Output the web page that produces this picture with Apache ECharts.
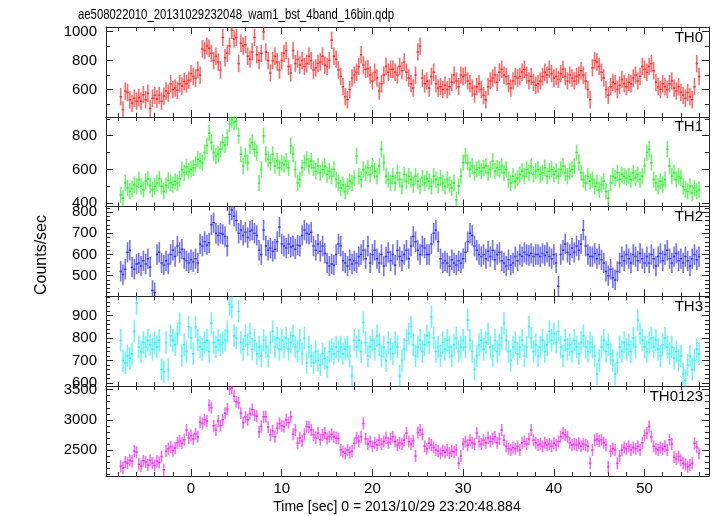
<!DOCTYPE html>
<html><head><meta charset="utf-8">
<script src="https://cdn.jsdelivr.net/npm/echarts@6/dist/echarts.min.js"></script>
<style>html,body{margin:0;padding:0;background:#fff}#c{width:717px;height:516px}</style>
</head><body><div id="c"></div>
<script>
const chartTitle = 'ae508022010_20131029232048_wam1_bst_4band_16bin.qdp';
const xTitle = 'Time [sec] 0 = 2013/10/29 23:20:48.884';
const yTitle = 'Counts/sec';
const bandNames = ['TH0', 'TH1', 'TH2', 'TH3', 'TH0123'];
const binStart = -7.75;   // centre of first bin (s)
const binWidth = 0.25;    // bin width (s)

const th0 = [
 550,460,590,580,530,505,540,520, 545,520,565,530,575,470,540,560,
 535,560,520,555,590,575,640,600, 610,595,640,625,655,640,665,710,
 690,680,735,700,880,870,900,885, 850,800,830,790,735,960,820,850,
 900,1010,950,960,780,920,900,910, 830,810,860,960,840,800,850,1000,
 860,800,715,800,830,790,735,800, 850,870,760,715,870,780,810,770,
 800,760,780,830,800,735,750,780, 790,830,770,760,800,940,830,810,
 735,690,620,550,530,600,680,700, 720,760,840,770,740,745,700,660,
 720,680,590,640,700,760,720,740, 740,720,700,760,730,790,720,680,
 640,610,700,860,900,680,640,660, 610,690,720,640,610,620,600,630,
 600,620,650,700,660,620,700,690, 700,660,640,610,570,620,640,600,
 560,530,620,660,680,700,650,720, 740,700,690,640,610,660,690,680,
 690,720,740,700,660,690,650,630, 640,660,690,720,700,740,710,680,
 690,670,710,740,690,660,700,680, 660,690,700,730,700,660,600,530,
 750,800,790,760,720,680,600,560, 620,650,640,600,630,670,640,620,
 650,640,680,700,660,690,760,740, 720,760,780,730,650,620,600,640,
 620,600,640,660,610,590,620,580, 560,540,580,550,530,620,780,690
];
const th1 = [
 450,430,520,490,470,485,510,500, 540,500,480,530,545,505,480,500,
 520,545,500,470,505,535,520,510, 530,520,545,600,580,615,590,600,
 610,630,660,650,640,700,740,815, 760,700,680,690,720,760,745,790,
 870,895,880,885,800,690,620,680, 640,740,760,720,700,520,600,800,
 690,660,640,690,620,650,610,640, 630,650,610,740,690,600,520,540,
 610,640,660,620,650,610,590,620, 580,600,620,570,590,560,600,540,
 520,490,510,470,500,530,520,550, 680,560,540,600,580,610,570,620,
 590,560,620,720,640,560,540,520, 560,520,580,540,500,570,530,560,
 540,510,560,530,500,550,520,545, 530,500,560,540,510,550,520,500,
 540,510,490,520,420,500,560,640, 680,640,600,620,580,600,610,590,
 610,620,580,600,650,590,610,600, 620,580,600,540,520,560,530,550,
 570,590,560,600,580,620,570,590, 600,570,580,610,560,590,600,570,
 590,560,600,620,580,560,590,600, 620,700,640,580,540,520,560,530,
 540,500,520,480,510,530,470,430, 520,560,550,580,540,570,560,550,
 560,540,580,550,570,540,560,620, 700,720,640,540,520,500,530,510,
 540,720,620,560,580,540,560,550, 500,480,470,500,460,490,470,480
];
const th2 = [
 520,505,530,610,620,540,530,555, 560,545,570,555,580,540,430,420,
 600,610,560,550,570,555,600,620, 590,640,610,625,580,570,560,575,
 565,580,560,650,640,660,645,655, 740,750,700,690,700,695,685,640,
 790,810,780,760,700,715,690,705, 680,710,715,700,690,620,600,715,
 640,620,630,615,625,660,730,650, 640,630,650,635,640,625,645,640,
 690,715,700,695,705,640,620,650, 615,640,605,560,545,555,550,600,
 650,640,570,560,545,575,555,570, 560,590,600,620,580,640,560,600,
 620,580,560,600,545,590,610,570, 600,550,620,590,570,600,620,580,
 640,685,660,620,600,640,630,600, 600,650,700,715,660,580,560,570,
 560,545,575,560,550,570,560,580, 610,660,700,690,640,620,600,590,
 600,580,615,590,620,575,600,610, 570,560,545,575,550,560,590,570,
 600,590,610,600,595,605,590,600, 600,590,605,595,610,590,580,600,
 560,450,600,620,650,610,600,630, 610,640,620,650,715,640,600,590,
 590,605,580,600,575,560,520,500, 530,490,480,520,560,590,570,600,
 580,560,600,590,570,605,580,560, 590,560,600,580,545,590,605,570,
 600,620,580,560,590,605,570,580, 560,590,570,545,580,600,575,590
];
const th3 = [
 790,700,690,720,710,730,830,955, 760,740,780,760,790,770,750,780,
 760,790,660,650,780,660,810,790, 770,820,865,720,770,740,850,800,
 730,850,790,760,750,780,790,740, 866,780,760,790,770,780,790,830,
 950,940,810,800,920,780,750,810, 770,820,750,790,730,760,720,790,
 760,720,780,830,760,800,750,790, 760,800,750,780,810,760,740,790,
 730,800,690,760,720,690,740,700, 680,730,710,670,740,750,730,760,
 740,760,730,750,760,720,630,790, 760,790,740,870,780,720,760,790,
 750,810,770,720,760,700,780,750, 730,780,760,630,700,750,790,820,
 850,770,720,760,790,740,770,810, 780,895,800,740,760,720,780,750,
 790,760,720,770,800,740,760,790, 760,880,790,740,660,720,770,790,
 750,780,820,760,720,790,740,770, 800,866,790,740,700,760,780,730,
 760,790,720,760,850,800,740,770, 720,760,790,740,770,830,790,820,
 780,830,760,720,790,750,770,740, 790,760,730,780,810,760,740,780,
 760,720,640,700,760,790,740,770, 730,700,640,690,760,740,780,750,
 770,740,800,760,880,820,790,760, 740,780,800,760,790,750,720,770,
 800,760,730,760,710,740,700,720, 640,612,680,720,660,700,750,730
];
const th0123 = [
 2230,2200,2300,2280,2330,2310,2480,2460, 2260,2230,2320,2300,2250,2330,2280,2240,
 2310,2290,2390,2170,2480,2520,2550,2490, 2530,2620,2650,2610,2670,2830,2700,2740,
 2680,2770,2720,2960,2940,3000,2980,3240, 3200,2900,2830,2980,2900,3000,3110,3180,
 3510,3530,3390,3300,3280,3110,2950,3050, 3000,3100,3170,3080,3060,2800,2890,3050,
 3050,2880,2750,2820,2720,2860,2940,2900, 2890,3000,2950,3050,2760,2830,2610,2700,
 2650,2760,2890,2880,2830,2750,2700,2780, 2670,2750,2780,2690,2720,2760,2720,2700,
 2690,2500,2470,2440,2500,2460,2480,2610, 2700,2650,2720,2940,2680,2600,2640,2560,
 2620,2580,2660,2600,2640,2700,2620,2680, 2720,2640,2580,2620,2600,2660,2780,2640,
 2600,2650,2400,2790,2830,2760,2560,2520, 2610,2580,2540,2500,2480,2440,2490,2460,
 2500,2450,2480,2470,2500,2280,2400,2600, 2640,2580,2660,2620,2600,2780,2640,2600,
 2660,2620,2700,2640,2680,2720,2620,2680, 2830,2660,2560,2520,2500,2540,2520,2560,
 2500,2620,2640,2600,2680,2830,2660,2620, 2580,2600,2560,2620,2580,2600,2560,2610,
 2580,2640,2720,2780,2750,2720,2620,2580, 2600,2580,2610,2560,2600,2580,2560,2280,
 2500,2660,2680,2650,2670,2620,2580,2220, 2480,2520,2500,2280,2400,2500,2540,2520,
 2560,2500,2540,2520,2560,2500,2620,2740, 2780,2890,2720,2560,2520,2500,2540,2520,
 2560,2500,2670,2600,2380,2350,2390,2330, 2280,2260,2220,2250,2280,2610,2550,2440
];
const bandErrors = [60, 48, 48, 50, 100];   // 1-sigma error (counts/sec) per band
const yMins = [412, 380, 402, 585, 2067];
const yMaxs = [1032, 912, 826, 986, 3558];
const yLabelValues = [[600, 800, 1000], [400, 600, 800], [500, 600, 700, 800], [600, 700, 800, 900], [2500, 3000, 3500]];
const yMinorStep = [100, 100, 20, 20, 100];
const xLabelValues = [0, 10, 20, 30, 40, 50];
const xMin = -9.37, xMax = 57.1;
const colors = ['#ff2a2a', '#2cf02c', '#3434ee', '#30f0f0', '#f030f0'];

const bands = [th0, th1, th2, th3, th0123];
const chart = echarts.init(document.getElementById('c'), null, {renderer: 'canvas'});

const panelTop = 27, panelH = 89.8, gridLeft = 106, gridRight = 8;
const FONT = '"Liberation Sans", Arial, Helvetica, sans-serif';
const frameColor = '#222';

function range(a, b, s) { const r = []; for (let v = a; v <= b + 1e-9; v += s) r.push(Math.round(v * 1000) / 1000); return r; }
const xMinor = range(-8, 56, 2);
const plain = v => String(v);

const grids = [], xAxes = [], yAxes = [], series = [];
bands.forEach((vals, i) => {
  grids.push({left: gridLeft, right: gridRight, top: panelTop + panelH * i, height: panelH});
  const isLast = i === bands.length - 1;
  const xBase = {type: 'value', gridIndex: i, min: xMin, max: xMax, splitLine: {show: false}, axisLine: {onZero: false}};
  const xi = xAxes.length;
  xAxes.push(Object.assign({}, xBase, {position: 'bottom',
    axisLine: {show: true, onZero: false, lineStyle: {color: frameColor, width: 1}},
    axisTick: {show: true, inside: true, length: 7, customValues: xLabelValues, lineStyle: {color: frameColor}},
    axisLabel: {show: isLast, customValues: xLabelValues, formatter: plain, margin: 5, fontSize: 15, color: '#000', fontFamily: FONT}}));
  xAxes.push(Object.assign({}, xBase, {position: 'bottom', axisLine: {show: false, onZero: false},
    axisTick: {show: true, inside: true, length: 4, customValues: xMinor, lineStyle: {color: frameColor}}, axisLabel: {show: false}}));
  xAxes.push(Object.assign({}, xBase, {position: 'top',
    axisLine: {show: true, onZero: false, lineStyle: {color: frameColor, width: 1}},
    axisTick: {show: true, inside: true, length: 7, customValues: xLabelValues, lineStyle: {color: frameColor}}, axisLabel: {show: false}}));
  xAxes.push(Object.assign({}, xBase, {position: 'top', axisLine: {show: false, onZero: false},
    axisTick: {show: true, inside: true, length: 4, customValues: xMinor, lineStyle: {color: frameColor}}, axisLabel: {show: false}}));

  const yMinorVals = range(Math.ceil(yMins[i] / yMinorStep[i]) * yMinorStep[i], yMaxs[i], yMinorStep[i]);
  const yBase = {type: 'value', gridIndex: i, min: yMins[i], max: yMaxs[i], splitLine: {show: false}, axisLine: {onZero: false}};
  const yi = yAxes.length;
  yAxes.push(Object.assign({}, yBase, {position: 'left',
    axisLine: {show: true, onZero: false, lineStyle: {color: frameColor, width: 1}},
    axisTick: {show: true, inside: true, length: 7, customValues: yLabelValues[i], lineStyle: {color: frameColor}},
    axisLabel: {show: true, customValues: yLabelValues[i], formatter: plain, margin: 9, fontSize: 15, color: '#000', fontFamily: FONT}}));
  yAxes.push(Object.assign({}, yBase, {position: 'left', axisLine: {show: false, onZero: false},
    axisTick: {show: true, inside: true, length: 4, customValues: yMinorVals, lineStyle: {color: frameColor}}, axisLabel: {show: false}}));
  yAxes.push(Object.assign({}, yBase, {position: 'right',
    axisLine: {show: true, onZero: false, lineStyle: {color: frameColor, width: 1}},
    axisTick: {show: true, inside: true, length: 7, customValues: yLabelValues[i], lineStyle: {color: frameColor}}, axisLabel: {show: false}}));
  yAxes.push(Object.assign({}, yBase, {position: 'right', axisLine: {show: false, onZero: false},
    axisTick: {show: true, inside: true, length: 4, customValues: yMinorVals, lineStyle: {color: frameColor}}, axisLabel: {show: false}}));

  const err = bandErrors[i];
  const data = vals.map((v, k) => [binStart + k * binWidth, v, err]);
  series.push({
    type: 'custom', name: bandNames[i], xAxisIndex: xi, yAxisIndex: yi, clip: true,
    itemStyle: {color: colors[i]}, encode: {x: 0, y: 1}, data: data, animation: false,
    renderItem: function (params, api) {
      const t = api.value(0), v = api.value(1), e = api.value(2), h = binWidth / 2;
      const a = api.coord([t - h, v]), b = api.coord([t + h, v]);
      const c = api.coord([t, v - e]), d = api.coord([t, v + e]);
      const col = colors[i];
      return {type: 'group', children: [
        {type: 'line', shape: {x1: c[0], y1: c[1], x2: d[0], y2: d[1]}, style: {stroke: col, lineWidth: 1.6, opacity: 0.7}},
        {type: 'line', shape: {x1: a[0], y1: a[1], x2: b[0], y2: b[1]}, style: {stroke: col, lineWidth: 1.5}}
      ]};
    }
  });
});

// fit the title into the width it occupies in the original (about 316 px)
const titleFont = '15px "Liberation Sans", Arial, sans-serif';
const mctx = document.createElement('canvas').getContext('2d');
mctx.font = titleFont;
const titleScale = 316 / mctx.measureText(chartTitle).width;

const graphics = [
  {type: 'text', x: 78, y: 15, scaleX: titleScale, style: {text: chartTitle, font: titleFont, fill: '#000', align: 'left', verticalAlign: 'middle'}},
  {type: 'text', x: 397, y: 507, style: {text: xTitle, font: '14px ' + FONT, fill: '#000', align: 'center', verticalAlign: 'middle'}},
  {type: 'text', x: 42, y: 255, rotation: Math.PI / 2, style: {text: yTitle, font: '16px ' + FONT, fill: '#000', align: 'center', verticalAlign: 'middle'}}
];
bandNames.forEach((n, i) => {
  graphics.push({type: 'text', x: 703, y: 37.5 + panelH * i, z: 10, style: {text: n, font: '15px ' + FONT, fill: '#000', align: 'right', verticalAlign: 'middle'}});
});

chart.setOption({
  animation: false,
  backgroundColor: '#fff',
  grid: grids, xAxis: xAxes, yAxis: yAxes, series: series, graphic: graphics
});
</script></body></html>
